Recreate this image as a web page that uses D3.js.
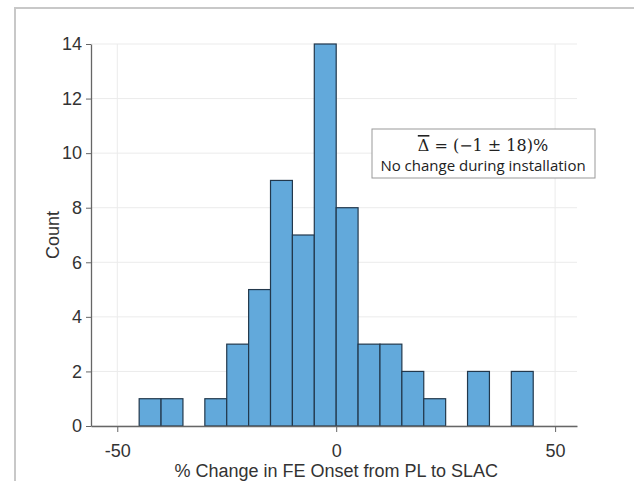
<!DOCTYPE html>
<html>
<head>
<meta charset="utf-8">
<script src="https://cdn.jsdelivr.net/npm/d3@7"></script>
<style>
  body { margin: 0; background: #fff; }
  svg { display: block; }
  .tick text { font-family: "Liberation Sans", Arial, sans-serif; font-size: 18px; fill: #333; }
</style>
</head>
<body>
<svg id="chart" width="634" height="481"></svg>
<script>
// histogram bins (left edge, % change) and counts
var binEdges = [-45, -40, -35, -30, -25, -20, -15, -10, -5, 0, 5, 10, 15, 20, 25, 30, 35, 40];
var counts   = [  1,   1,   0,   1,   3,   5,   9,   7, 14, 8, 3,  3,  2,  1,  0,  2,  0,  2];
var binWidth = 5;
var xTicks = [-50, 0, 50];
var yTicks = [0, 2, 4, 6, 8, 10, 12, 14];

var svg = d3.select('#chart')
  , margin = { left: 91, right: 57, top: 44, bottom: 55 }
  , width = 634 - margin.left - margin.right
  , height = 481 - margin.top - margin.bottom;

var bins = binEdges.map(function(e, i) { return { x0: e, n: counts[i] }; })
  .filter(function(d) { return d.n > 0; });

// slide frame
svg.append('path')
  .attr('d', 'M15,481 V8 H634')
  .attr('fill', 'none')
  .attr('stroke', '#c8c8c8')
  .attr('stroke-width', 2);

var x = d3.scaleLinear().domain([-56, 55]).range([0, width]);
var y = d3.scaleLinear().domain([0, 14]).range([height, 0]);

var g = svg.append('g').attr('transform', 'translate(' + margin.left + ',' + margin.top + ')');

// grid
g.selectAll('line.gx').data(xTicks)
  .enter().append('line')
    .attr('class', 'gx')
    .attr('x1', x).attr('x2', x)
    .attr('y1', 0).attr('y2', height)
    .style('stroke', '#ebebeb');

g.selectAll('line.gy').data(yTicks)
  .enter().append('line')
    .attr('class', 'gy')
    .attr('x1', 0).attr('x2', width)
    .attr('y1', y).attr('y2', y)
    .style('stroke', '#ebebeb');

// bars
g.selectAll('rect.bar').data(bins)
  .enter().append('rect')
    .attr('class', 'bar')
    .attr('x', function(d) { return x(d.x0); })
    .attr('y', function(d) { return y(d.n); })
    .attr('width', x(binWidth) - x(0))
    .attr('height', function(d) { return height - y(d.n); })
    .style('fill', '#62a9db')
    .style('stroke', '#22384c')
    .style('stroke-width', 1.2);

// axes
var fmt = function(d) { return String(d); };
var xAxis = g.append('g')
  .attr('transform', 'translate(0,' + height + ')')
  .call(d3.axisBottom(x).tickValues(xTicks).tickFormat(fmt).tickSize(6).tickSizeOuter(0).tickPadding(9));

var yAxis = g.append('g')
  .call(d3.axisLeft(y).tickValues(yTicks).tickFormat(fmt).tickSize(5).tickSizeOuter(0).tickPadding(4));

[xAxis, yAxis].forEach(function(a) {
  a.select('.domain').style('stroke', '#666').style('stroke-width', 1.3);
  a.selectAll('.tick line').style('stroke', '#666');
});
xAxis.selectAll('.tick text').attr('dy', '0.9em');

// axis titles
svg.append('text')
  .attr('x', margin.left + x(0))
  .attr('y', 477)
  .attr('text-anchor', 'middle')
  .style('font-family', '"Liberation Sans", Arial, sans-serif')
  .style('font-size', '18px')
  .style('fill', '#333')
  .text('% Change in FE Onset from PL to SLAC');

svg.append('text')
  .attr('transform', 'translate(59,' + (margin.top + height / 2) + ') rotate(-90)')
  .attr('text-anchor', 'middle')
  .style('font-family', '"Liberation Sans", Arial, sans-serif')
  .style('font-size', '18px')
  .style('fill', '#333')
  .text('Count');

// annotation box
var note = svg.append('g').attr('transform', 'translate(372,129)');
note.append('rect')
  .attr('width', 223).attr('height', 49)
  .style('fill', '#fff')
  .style('stroke', '#999');

var t1 = note.append('text')
  .attr('x', 111).attr('y', 22)
  .attr('text-anchor', 'middle')
  .style('font-family', '"DejaVu Serif", serif')
  .style('font-size', '16px')
  .style('fill', '#222');
t1.append('tspan').style('text-decoration', 'overline').text('Δ');
t1.append('tspan').text(' = (−1 ± 18)%');

note.append('text')
  .attr('x', 111).attr('y', 42)
  .attr('text-anchor', 'middle')
  .style('font-family', '"Open Sans", "Noto Sans", sans-serif')
  .style('font-size', '15px')
  .style('fill', '#222')
  .text('No change during installation');
</script>
</body>
</html>
